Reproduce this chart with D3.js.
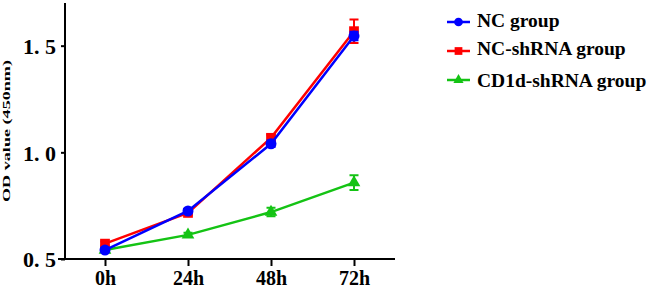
<!DOCTYPE html>
<html>
<head>
<meta charset="utf-8">
<script src="https://cdn.jsdelivr.net/npm/d3@7"></script>
<style>
  body { margin: 0; background: #fff; }
</style>
</head>
<body>
<script>
const timePoints = ['0h', '24h', '48h', '72h'];
const seriesNames = ['NC group', 'NC-shRNA group', 'CD1d-shRNA group'];
const ncMean = [0.542, 0.725, 1.04, 1.545];
const ncErr = [0.01, 0.01, 0.015, 0.02];
const shMean = [0.572, 0.716, 1.068, 1.568];
const shErr = [0.01, 0.01, 0.015, 0.055];
const cdMean = [0.542, 0.613, 0.72, 0.858];
const cdErr = [0.008, 0.01, 0.02, 0.035];
const yTicks = [0.5, 1.0, 1.5];

const W = 653, H = 293;
const FONT = '"Liberation Serif", "Times New Roman", serif';
const svg = d3.select('body').append('svg').attr('width', W).attr('height', H);

const x = d3.scalePoint().domain(timePoints).range([105, 354]);
const y = d3.scaleLinear().domain([0.5, 1.7]).range([259, 3]);

const series = [
  { name: seriesNames[2], mean: cdMean, err: cdErr, color: '#14c314', shape: d3.symbolTriangle },
  { name: seriesNames[1], mean: shMean, err: shErr, color: '#ff0000', shape: d3.symbolSquare },
  { name: seriesNames[0], mean: ncMean, err: ncErr, color: '#0000ff', shape: d3.symbolCircle }
];

// axes
const yAxis = svg.append('g').attr('transform', 'translate(65,0)')
  .call(d3.axisLeft(y).tickValues(yTicks).tickSize(4).tickSizeOuter(0).tickFormat(d => d3.format('.1f')(d).replace('.', '. ')));
yAxis.select('.domain').attr('d', `M0,${y(1.7)}V${y(0.5) + 1}`).attr('stroke-width', 2);
yAxis.selectAll('.tick line').attr('stroke-width', 2);
yAxis.selectAll('.tick text').attr('x', -9).attr('dy', '0.36em')
  .style('font-family', FONT).style('font-weight', 'bold').style('font-size', '22px').attr('fill', '#000');

const xAxis = svg.append('g').attr('transform', `translate(0,${y(0.5)})`)
  .call(d3.axisBottom(x).tickSize(7).tickSizeOuter(0));
xAxis.select('.domain').attr('d', 'M58,0H395').attr('stroke-width', 2);
xAxis.selectAll('.tick line').attr('stroke-width', 2);
xAxis.selectAll('.tick text').attr('y', 12).attr('dy', '0.71em')
  .style('font-family', FONT).style('font-weight', 'bold').style('font-size', '20px').attr('fill', '#000');

svg.append('text')
  .attr('transform', `translate(10,${131}) rotate(-90)`)
  .attr('text-anchor', 'middle')
  .attr('textLength', 142)
  .attr('lengthAdjust', 'spacingAndGlyphs')
  .style('font-family', FONT).style('font-weight', 'bold').style('font-size', '11px')
  .text('OD value (450nm)');

// series
const line = d3.line().x((d, i) => x(timePoints[i])).y(d => y(d));
series.forEach(s => {
  const g = svg.append('g');
  g.append('path').datum(s.mean).attr('d', line)
    .attr('fill', 'none').attr('stroke', s.color).attr('stroke-width', 2.5);
  s.mean.forEach((m, i) => {
    const cx = x(timePoints[i]);
    const top = y(m + s.err[i]), bot = y(m - s.err[i]);
    g.append('path')
      .attr('d', `M${cx},${top}V${bot}M${cx - 4.5},${top}H${cx + 4.5}M${cx - 4.5},${bot}H${cx + 4.5}`)
      .attr('stroke', s.color).attr('stroke-width', 2).attr('fill', 'none');
    g.append('path')
      .attr('d', d3.symbol().type(s.shape).size(s.shape === d3.symbolTriangle ? 70 : 95)())
      .attr('transform', `translate(${cx},${y(m)})`)
      .attr('fill', s.color);
  });
});

// legend
const legendRows = [
  { s: series[2], ly: 22, ty: 27 },
  { s: series[1], ly: 51, ty: 55 },
  { s: series[0], ly: 80, ty: 87 }
];
legendRows.forEach(r => {
  const g = svg.append('g');
  g.append('line').attr('x1', 447).attr('x2', 470).attr('y1', r.ly).attr('y2', r.ly)
    .attr('stroke', r.s.color).attr('stroke-width', 2.5);
  g.append('path')
    .attr('d', d3.symbol().type(r.s.shape).size(r.s.shape === d3.symbolTriangle ? 45 : 60)())
    .attr('transform', `translate(458.5,${r.ly})`)
    .attr('fill', r.s.color);
  g.append('text').attr('x', 477).attr('y', r.ty)
    .style('font-family', FONT).style('font-weight', 'bold').style('font-size', '19.5px')
    .text(r.s.name);
});
</script>
</body>
</html>
